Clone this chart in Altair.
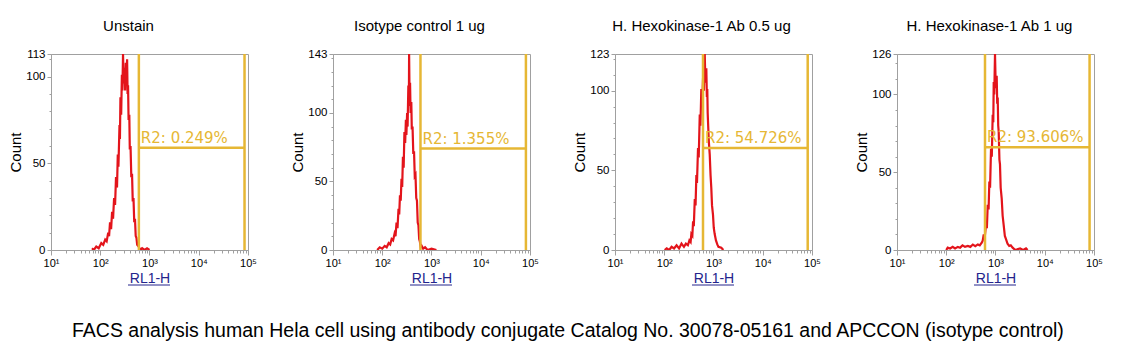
import altair as alt
import pandas as pd

# ---------------- data ----------------
panel_titles = ["Unstain", "Isotype control 1 ug",
                "H. Hexokinase-1 Ab 0.5 ug", "H. Hexokinase-1 Ab 1 ug"]
y_max = [113, 143, 123, 126]

gate_left = [608, 597, 612, 612]
gate_right = [85000, 82600, 81800, 81300]
gate_level = [59, 74, 64, 66]
gate_label = ["R2: 0.249%", "R2: 1.355%", "R2: 54.726%", "R2: 93.606%"]

p1_rl1h = [68, 74, 83, 93, 105, 115, 126, 135, 145, 151, 158, 166, 174, 182, 191,
           200, 209, 219, 227, 234, 246, 251, 257, 266, 275, 282, 290, 299, 309, 320,
           330, 339, 351, 359, 367, 376, 389, 398, 412, 427, 442, 457, 473, 490, 507,
           525, 543, 562, 603, 646, 708, 794, 891, 1000]
p1_count = [1, 0, 2, 1, 4, 3, 6, 5, 10, 8, 16, 12, 22, 18, 30,
            26, 42, 36, 55, 48, 72, 64, 88, 78, 101, 92, 113, 96, 105, 92,
            108, 98, 110, 90, 95, 75, 78, 58, 60, 42, 44, 28, 30, 16, 18,
            8, 7, 3, 2, 0, 1, 0, 1, 0]

p2_rl1h = [79, 89, 100, 112, 123, 135, 145, 155, 166, 178, 186, 195, 204, 214, 221,
           229, 237, 246, 254, 263, 272, 282, 292, 302, 309, 320, 327, 339, 347, 351,
           359, 367, 376, 389, 398, 412, 427, 442, 457, 473, 490, 507, 525, 543, 562,
           582, 603, 631, 676, 741, 832, 1000, 1259]
p2_count = [0, 2, 1, 3, 2, 5, 4, 8, 7, 12, 10, 20, 16, 30, 26,
            40, 36, 52, 46, 68, 60, 86, 78, 95, 84, 100, 90, 120, 105, 143,
            110, 122, 100, 108, 88, 90, 70, 72, 54, 55, 38, 36, 20, 18, 8,
            6, 2, 3, 1, 2, 0, 1, 0]

p3_rl1h = [102, 112, 126, 141, 158, 178, 200, 224, 251, 275, 302, 324, 343, 355, 372,
           385, 398, 417, 432, 449, 462, 485, 501, 526, 543, 566, 589, 617, 638, 664,
           684, 715, 733, 748, 762, 775, 804, 838, 871, 902, 933, 977, 1012, 1057, 1122,
           1194, 1259, 1439, 1585]
p3_count = [0, 1, 0, 2, 1, 3, 1, 4, 2, 4, 3, 6, 5, 10, 9,
            18, 15, 32, 28, 47, 42, 64, 58, 85, 78, 101, 92, 110, 100, 123,
            105, 114, 96, 101, 86, 80, 68, 60, 47, 39, 28, 22, 14, 10, 6,
            3.5, 2, 1.4, 0]

p4_rl1h = [100, 107, 120, 135, 151, 172, 191, 214, 240, 274, 309, 347, 389, 437, 479,
           526, 550, 577, 603, 643, 668, 695, 724, 750, 776, 811, 841, 877, 902, 920,
           944, 977, 1012, 1057, 1084, 1109, 1135, 1161, 1202, 1233, 1274, 1337, 1396, 1466, 1549,
           1633, 1758, 1901, 2042, 2228, 2512, 3162, 3631, 4169, 4488]
p4_count = [0, 1.5, 1, 2, 1, 2, 1.5, 3, 2, 2.6, 2, 3.5, 2.5, 3.6, 3,
            4.7, 6, 10, 8, 16.4, 14, 29, 26, 44, 40, 65, 60, 87, 82, 108,
            100, 126, 104, 112, 94, 98, 80, 76, 58, 55, 40, 33, 22, 16, 9,
            7, 4, 2.6, 3, 1.5, 0, 1, 0, 1, 0]

series = [(p1_rl1h, p1_count), (p2_rl1h, p2_count),
          (p3_rl1h, p3_count), (p4_rl1h, p4_count)]

caption = ("FACS analysis human Hela cell using antibody conjugate Catalog No. "
           "30078-05161 and APCCON (isotype control)")

# ---------------- styling ----------------
RED = "#e3141b"
GOLD = "#e6b734"
NAVY = "#24248c"
GRAY = "#a0a0a0"
FONT = "Liberation Sans"
W, H = 197, 196
title_dx = [-21, -12, -12, -6]

x_ticks = [m * 10 ** k for k in range(1, 5) for m in range(1, 10)] + [100000]
is_major_x = "abs(log(datum.value)/LN10 - round(log(datum.value)/LN10)) < 0.001"
x_axis = alt.Axis(
    values=x_ticks,
    title="RL1-H",
    titleColor=NAVY,
    titleFontSize=14,
    titleFontWeight="normal",
    titleFont=FONT,
    titlePadding=3,
    labelExpr=(f"{is_major_x} ? '10' + ['\u00b9','\u00b2','\u00b3','\u2074','\u2075']"
               "[round(log(datum.value)/LN10)-1] : ''"),
    labelOverlap=False,
    labelFlush=False,
    labelPadding=2,
    labelFontSize=11,
    tickSize={"condition": {"test": is_major_x, "value": 5}, "value": 3},
    grid=False,
)


def y_axis(ymax):
    ticks = list(range(0, ymax, 10)) + [ymax]
    test = f"datum.value % 50 == 0 || datum.value == {ymax}"
    return alt.Axis(
        values=ticks,
        title="Count",
        titleFontSize=15,
        titleFontWeight="normal",
        titleFont=FONT,
        titleColor="black",
        titlePadding=2,
        labelExpr=f"{test} ? datum.label : ''",
        labelOverlap=False,
        labelPadding=2,
        labelFontSize=11.5,
        tickSize={"condition": {"test": test, "value": 4}, "value": 2},
        grid=False,
    )


panels = []
for i, (xs, ys) in enumerate(series):
    df = pd.DataFrame({"RL1-H": xs, "Count": ys})
    gate = pd.DataFrame({"left": [gate_left[i]], "right": [gate_right[i]],
                         "level": [gate_level[i]], "label": [gate_label[i]]})
    xs_ = alt.Scale(type="log", domain=[10, 100000])
    ys_ = alt.Scale(domain=[0, y_max[i]], nice=False, zero=True)
    ya = y_axis(y_max[i])

    line = alt.Chart(df).mark_line(color=RED, strokeWidth=2.2, clip=True).encode(
        x=alt.X("RL1-H:Q", scale=xs_, axis=x_axis),
        y=alt.Y("Count:Q", scale=ys_, axis=ya),
    )
    vleft = alt.Chart(gate).mark_rule(color=GOLD, strokeWidth=2.5).encode(
        x=alt.X("left:Q", scale=xs_, axis=x_axis))
    vright = alt.Chart(gate).mark_rule(color=GOLD, strokeWidth=2.5).encode(
        x=alt.X("right:Q", scale=xs_, axis=x_axis))
    hline = alt.Chart(gate).mark_rule(color=GOLD, strokeWidth=2.5).encode(
        x=alt.X("left:Q", scale=xs_, axis=x_axis), x2="right:Q",
        y=alt.Y("level:Q", scale=ys_, axis=ya))
    label = alt.Chart(gate).mark_text(
        align="left", baseline="alphabetic", dx=2, dy=-5,
        font="DejaVu Sans", fontSize=15, color=GOLD).encode(
        x=alt.X("left:Q", scale=xs_, axis=x_axis),
        y=alt.Y("level:Q", scale=ys_, axis=ya),
        text="label:N")
    underline = alt.Chart(gate).mark_rule(color=NAVY, strokeWidth=1).encode(
        x=alt.value(77), x2=alt.value(119), y=alt.value(H + 35))

    panel = alt.layer(line, vleft, vright, hline, label, underline).properties(
        width=W, height=H,
        title=alt.TitleParams(panel_titles[i], fontSize=15, font=FONT,
                              fontWeight="normal", color="black",
                              anchor="middle", frame="group", offset=2,
                              baseline="alphabetic", dx=title_dx[i]),
    )
    panels.append(panel)

chart = alt.hconcat(*panels, spacing=85, bounds="flush").properties(
    title=alt.TitleParams(caption, orient="bottom", anchor="start", frame="group",
                          offset=51, dx=21, fontSize=19.5, font=FONT, fontWeight="normal",
                          color="black", baseline="alphabetic"),
    padding={"left": 0, "top": 10, "right": 0, "bottom": 0},
).configure_view(stroke=GRAY, strokeWidth=1).configure_axis(
    domainColor=GRAY, tickColor=GRAY, labelColor="black", labelFont=FONT,
)

chart.save("out.html", embed_options={"renderer": "svg", "actions": False})
